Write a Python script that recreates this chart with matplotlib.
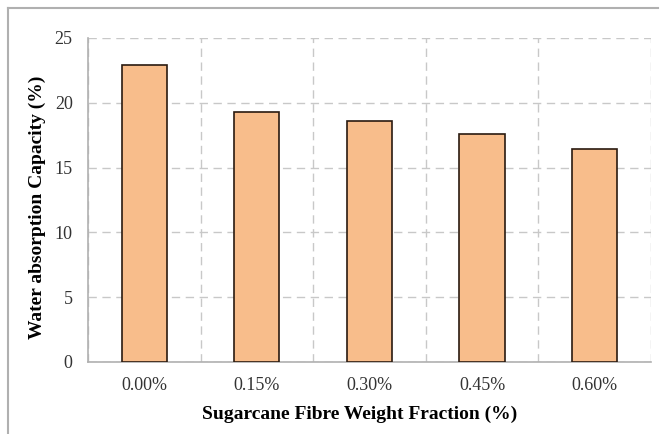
import numpy as np
import matplotlib.pyplot as plt
from matplotlib.lines import Line2D

fractions = ['0.00%', '0.15%', '0.30%', '0.45%', '0.60%']
absorption = [22.9, 19.3, 18.6, 17.6, 16.4]

plt.rcParams['font.family'] = ['Liberation Serif', 'DejaVu Serif']

fig = plt.figure(figsize=(6.63, 4.34), dpi=100)
ax = fig.add_axes([0.1327, 0.166, 0.849, 0.7465])

x = np.arange(len(fractions))
ax.bar(x, absorption, width=0.4, color='#f8bd8b', edgecolor='#2a1a10', linewidth=1.2, zorder=3)

ax.set_xlim(-0.5, len(fractions) - 0.5)
ax.set_ylim(0, 25)
ax.set_yticks(np.arange(0, 26, 5))
ax.set_xticks(x)
ax.set_xticklabels(fractions)
ax.set_xticks(np.arange(-0.5, len(fractions), 1.0), minor=True)

ax.grid(axis='y', which='major', color='#c8c8c8', linestyle=(0, (6, 4)), linewidth=1, zorder=0)
ax.grid(axis='x', which='minor', color='#c8c8c8', linestyle=(0, (6, 4)), linewidth=1, zorder=0)
ax.tick_params(which='both', length=0, labelsize=13, colors='#333333')
ax.tick_params(axis='y', pad=11)
ax.tick_params(axis='x', pad=11)

for s in ['top', 'right']:
    ax.spines[s].set_visible(False)
for s in ['left', 'bottom']:
    ax.spines[s].set_color('#b0b0b0')
    ax.spines[s].set_linewidth(1.2)

ax.set_ylabel('Water absorption Capacity (%)', fontsize=14, fontweight='bold', labelpad=6)
ax.set_xlabel('Sugarcane Fibre Weight Fraction (%)', fontsize=14, fontweight='bold', labelpad=8)
ax.xaxis.label.set_x(0.482)
ax.yaxis.label.set_y(0.478)

# outer frame lines
fig.add_artist(Line2D([8 / 663, 658 / 663], [1 - 8 / 434, 1 - 8 / 434], color='#b0b0b0', lw=1.5))
fig.add_artist(Line2D([8 / 663, 8 / 663], [0, 1 - 8 / 434], color='#b0b0b0', lw=1.5))

fig.savefig('out.png', dpi=100)
